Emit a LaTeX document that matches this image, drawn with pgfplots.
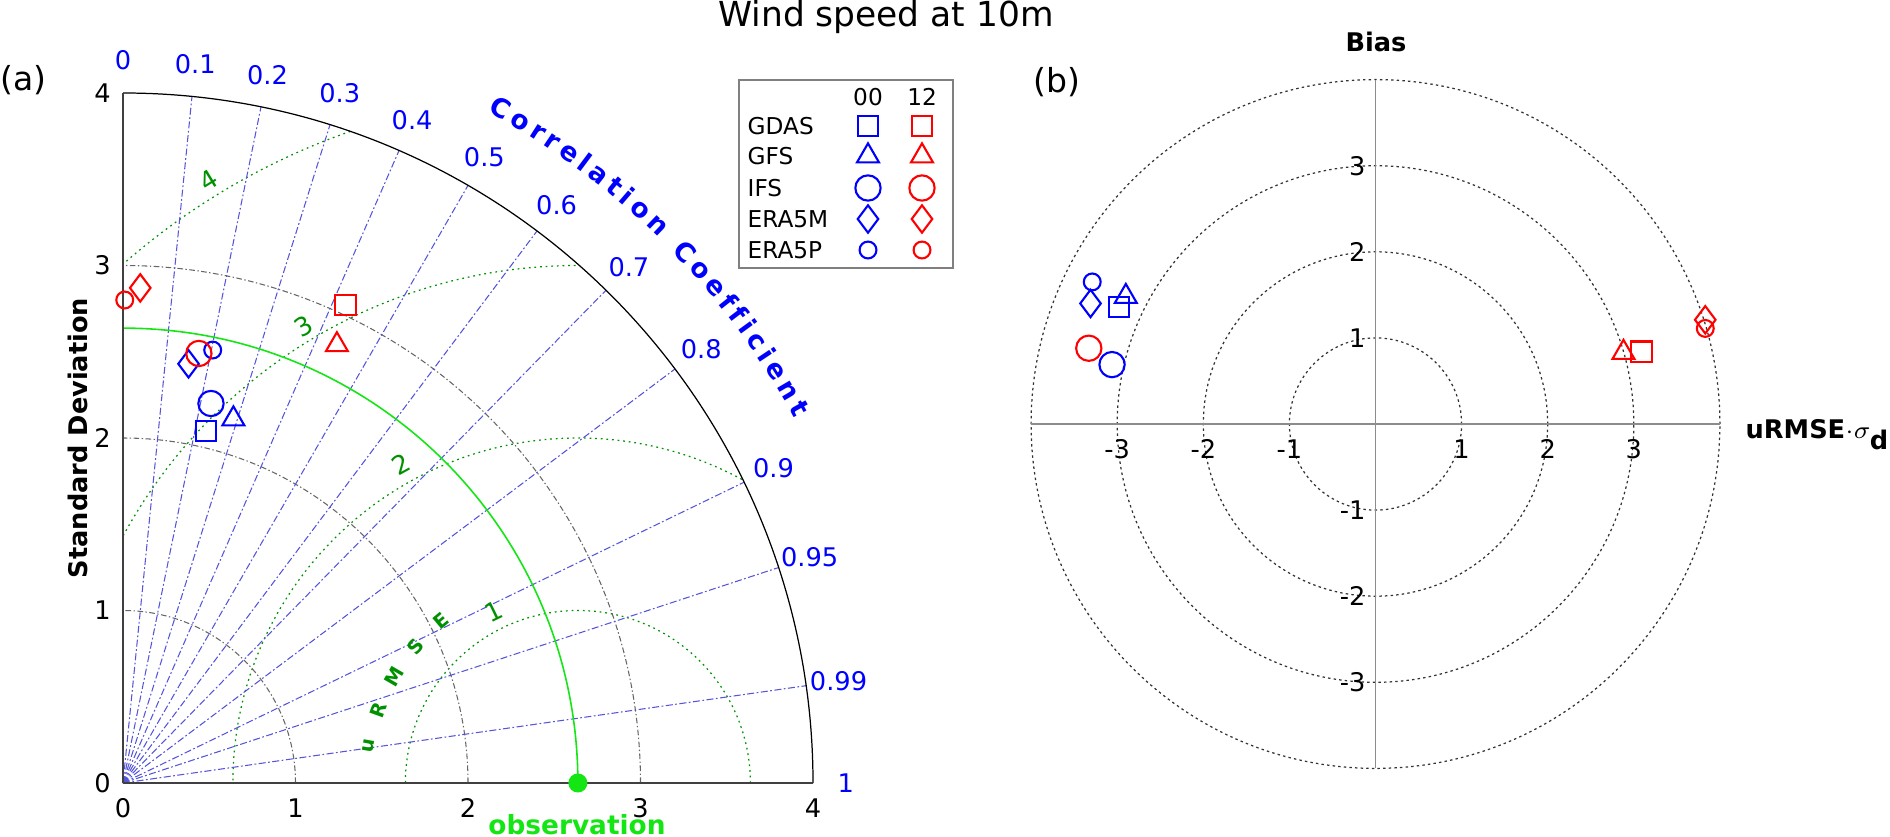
\documentclass[border=0pt]{standalone}
\usepackage{pgfplots}
\pgfplotsset{compat=1.18}
\usepackage{fontspec}
\setmainfont{DejaVu Sans}
\usetikzlibrary{decorations.text}

\definecolor{mkblue}{RGB}{0,0,255}
\definecolor{mkred}{RGB}{255,0,0}
\definecolor{rmsgreen}{RGB}{0,145,0}
\definecolor{obsgreen}{RGB}{20,230,20}
\definecolor{raycol}{RGB}{85,85,220}

\newcommand\fs{\fontsize{7.3}{8.5}\selectfont}
\newcommand\lfs{\fontsize{6.6}{8}\selectfont}
\newcommand\cfont{\fontsize{7.5}{9}\selectfont\bfseries}

\pgfplotsset{
  m00/.style={only marks, color=mkblue, line width=0.6pt},
  m12/.style={only marks, color=mkred, line width=0.6pt},
  gdas/.style={mark=square, mark size=2.9pt},
  gfs/.style={mark=triangle, mark size=3.6pt},
  ifs/.style={mark=o, mark size=3.6pt},
  eram/.style={mark=diamond, mark size=3.9pt},
  erap/.style={mark=o, mark size=2.4pt},
}

\begin{document}
\begin{tikzpicture}
\useasboundingbox (0,0) rectangle (18.9,8.36);

\node[anchor=base, font=\fontsize{9.8}{11}\selectfont] at (8.86,8.093) {Wind speed at 10m};
\node[anchor=base west, inner sep=0, font=\fontsize{9.4}{11}\selectfont] at (0,7.454) {(a)};
\node[anchor=base west, inner sep=0, font=\fontsize{9.4}{11}\selectfont] at (10.33,7.44) {(b)};

% ---- (a) Taylor diagram grid: std dev arcs, correlation rays, uRMSE circles
\begin{scope}[shift={(1.23,0.53)}, x=1.725cm, y=1.725cm]
  \begin{scope}
    \clip (0,0) -- (4,0) arc[start angle=0, end angle=90, radius=4] -- cycle;
    \foreach \r in {1,2,3,4}
      \draw[rmsgreen, line width=0.35pt, dash pattern=on 0.5pt off 1.1pt] (2.637,0) circle[radius=\r];
  \end{scope}
  \foreach \r in {1,2,3}
    \draw[black!60, line width=0.3pt, dash pattern=on 1.6pt off 0.7pt on 0.4pt off 0.7pt]
      (\r,0) arc[start angle=0, end angle=90, radius=\r];
  \foreach \c in {0.1,0.2,0.3,0.4,0.5,0.6,0.7,0.8,0.9,0.95,0.99}
    \draw[raycol, line width=0.3pt, dash pattern=on 2pt off 0.7pt on 0.5pt off 0.7pt]
      (0,0) -- ({acos(\c)}:4);
  \draw[black, line width=0.35pt] (4,0) arc[start angle=0, end angle=90, radius=4];
  \draw[obsgreen, line width=0.45pt] (2.637,0) arc[start angle=0, end angle=90, radius=2.637];
  \foreach \c in {0,0.1,0.2,0.3,0.4,0.5,0.6,0.7,0.8,0.9,0.95,0.99,1}
    \node[text=mkblue, font=\fs] at ({acos(\c)}:4.19) {\c};
  \path[decorate, decoration={text along path, text align=fit to path, text color=mkblue,
        text={|\cfont|Correlation Coefficient}}]
    (61.5:4.43) arc[start angle=61.5, end angle=28.5, radius=4.43];
  \begin{scope}[shift={(2.637,0)}]
    \foreach \l/\rr/\a in {1/1.107/116, 2/2.11/119, 3/3.09/121, 4/4.10/121.5}
      \node[text=rmsgreen, font=\fs, rotate=\a-90] at (\a:\rr) {\l};
    \foreach \l/\a in {u/170, R/160, M/150, S/140, E/130}
      \node[text=rmsgreen, font=\fontsize{5.5}{6}\selectfont\bfseries, rotate=\a-90] at (\a:1.23) {\l};
  \end{scope}
\end{scope}

\begin{axis}[
  at={(1.23cm,0.53cm)}, anchor=south west,
  x=1.725cm, y=1.725cm,
  xmin=0, xmax=4, ymin=0, ymax=4, enlargelimits=false,
  axis x line*=bottom, axis y line*=left,
  axis line style={black!75, line width=0.6pt},
  x axis line style={-}, y axis line style={-},
  xtick={0,1,2,3,4}, ytick={0,1,2,3,4},
  major tick length=0pt,
  /pgf/number format/assume math mode=true,
  tick label style={font=\fs},
  xticklabel style={anchor=base, yshift=-3.4mm},
  ylabel={Standard Deviation},
  ylabel style={font=\fs\bfseries, at={(axis description cs:-0.065,0.5)}, anchor=center},
  clip=false,
]
% 00 UTC cycle (blue)
\addplot[m00, gdas] coordinates {(0.48,2.04)};
\addplot[m00, gfs]  coordinates {(0.64,2.11)};
\addplot[m00, ifs]  coordinates {(0.51,2.20)};
\addplot[m00, eram] coordinates {(0.38,2.43)};
\addplot[m00, erap] coordinates {(0.52,2.51)};
% 12 UTC cycle (red)
\addplot[m12, gdas] coordinates {(1.29,2.77)};
\addplot[m12, gfs]  coordinates {(1.24,2.54)};
\addplot[m12, ifs]  coordinates {(0.44,2.49)};
\addplot[m12, eram] coordinates {(0.10,2.87)};
\addplot[m12, erap] coordinates {(0.01,2.80)};
% observation
\addplot[only marks, mark=*, color=obsgreen, mark size=2.5pt] coordinates {(2.637,0)};
\end{axis}
\node[anchor=base, inner sep=0, text=obsgreen, font=\fontsize{7.5}{9}\selectfont\bfseries] at (5.77,0.02) {observation};

% ---- legend
\begin{axis}[
  at={(7.39cm,5.68cm)}, anchor=south west, scale only axis,
  width=2.14cm, height=1.88cm,
  xmin=0, xmax=214, ymin=0, ymax=188, enlargelimits=false,
  xtick=\empty, ytick=\empty,
  axis line style={black!50, line width=0.4pt},
  clip=false,
]
\node[font=\lfs] at (axis cs:129,171) {00};
\node[font=\lfs] at (axis cs:183,171) {12};
\node[anchor=west, inner sep=0, font=\lfs] at (axis cs:8,142) {GDAS};
\node[anchor=west, inner sep=0, font=\lfs] at (axis cs:8,112) {GFS};
\node[anchor=west, inner sep=0, font=\lfs] at (axis cs:8,80) {IFS};
\node[anchor=west, inner sep=0, font=\lfs] at (axis cs:8,49) {ERA5M};
\node[anchor=west, inner sep=0, font=\lfs] at (axis cs:8,18) {ERA5P};
\addplot[m00, gdas] coordinates {(129,142)};
\addplot[m12, gdas] coordinates {(183,142)};
\addplot[m00, gfs]  coordinates {(129,112)};
\addplot[m12, gfs]  coordinates {(183,112)};
\addplot[m00, ifs]  coordinates {(129,80)};
\addplot[m12, ifs]  coordinates {(183,80)};
\addplot[m00, eram] coordinates {(129,49)};
\addplot[m12, eram] coordinates {(183,49)};
\addplot[m00, erap] coordinates {(129,18)};
\addplot[m12, erap] coordinates {(183,18)};
\end{axis}

% ---- (b) target-like diagram grid
\begin{scope}[shift={(13.755,4.12)}, x=0.861cm, y=0.861cm]
  \foreach \r in {1,2,3,4}
    \draw[black!80, line width=0.35pt, dash pattern=on 0.7pt off 0.9pt] (0,0) circle[radius=\r];
  \draw[black!45, line width=0.45pt] (-4,0) -- (4,0) (0,-4) -- (0,4);
  \foreach \v in {-3,-2,-1,1,2,3} {
    \node[anchor=base, inner sep=0, font=\fs] at (\v,-0.395) {\v};
    \node[anchor=east, inner sep=0, font=\fs] at (-0.11,\v) {\v};
  }
\end{scope}
\node[anchor=base, inner sep=0, font=\fs\bfseries] at (13.76,7.843) {Bias};
\node[anchor=base west, inner sep=0, font=\fs] at (17.45,3.98) {\textbf{uRMSE}$\cdot\sigma_{\textbf{d}}$};

\begin{axis}[
  at={(10.311cm,0.676cm)}, anchor=south west,
  x=0.861cm, y=0.861cm,
  xmin=-4, xmax=4, ymin=-4, ymax=4, enlargelimits=false,
  hide axis, clip=false,
]
\addplot[m00, gdas] coordinates {(-2.98,1.36)};
\addplot[m00, gfs]  coordinates {(-2.90,1.48)};
\addplot[m00, ifs]  coordinates {(-3.06,0.69)};
\addplot[m00, eram] coordinates {(-3.31,1.40)};
\addplot[m00, erap] coordinates {(-3.29,1.65)};
\addplot[m12, gdas] coordinates {(3.09,0.84)};
\addplot[m12, gfs]  coordinates {(2.88,0.83)};
\addplot[m12, ifs]  coordinates {(-3.33,0.88)};
\addplot[m12, eram] coordinates {(3.83,1.21)};
\addplot[m12, erap] coordinates {(3.83,1.11)};
\end{axis}
\end{tikzpicture}
\end{document}
